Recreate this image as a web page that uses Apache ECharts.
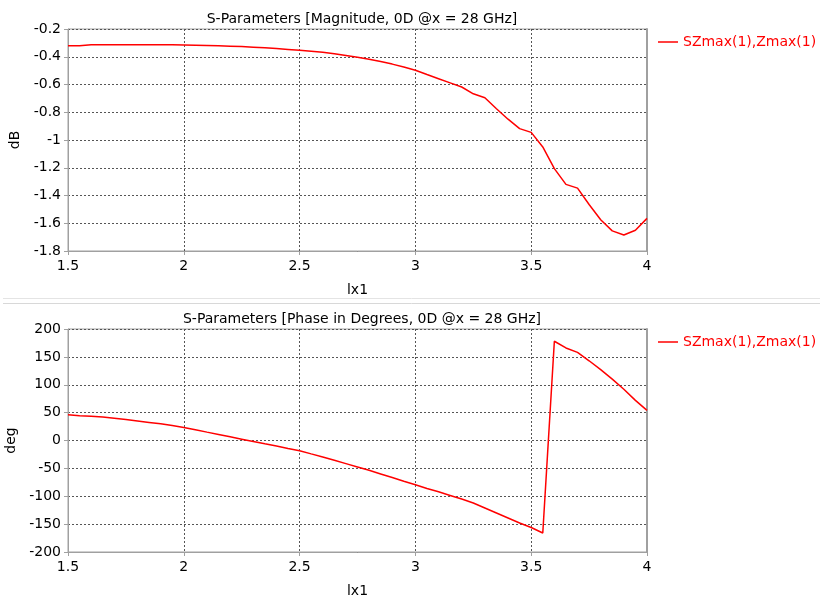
<!DOCTYPE html>
<html>
<head>
<meta charset="utf-8">
<script src="https://cdn.jsdelivr.net/npm/echarts@6/dist/echarts.min.js"></script>
<style>html,body{margin:0;padding:0;background:#fff;}#c{width:820px;height:602px;}</style>
</head>
<body>
<div id="c"></div>
<script>
const xValues = [1.5,1.55,1.6,1.65,1.7,1.75,1.8,1.85,1.9,1.95,2.0,2.05,2.1,2.15,2.2,2.25,2.3,2.35,2.4,2.45,2.5,2.55,2.6,2.65,2.7,2.75,2.8,2.85,2.9,2.95,3.0,3.05,3.1,3.15,3.2,3.25,3.3,3.35,3.4,3.45,3.5,3.55,3.6,3.65,3.7,3.75,3.8,3.85,3.9,3.95,4.0];
const magnitudeDb = [-0.321,-0.32,-0.314,-0.314,-0.314,-0.314,-0.314,-0.314,-0.314,-0.314,-0.315,-0.317,-0.319,-0.321,-0.324,-0.327,-0.331,-0.336,-0.341,-0.347,-0.353,-0.36,-0.367,-0.378,-0.391,-0.404,-0.418,-0.434,-0.453,-0.474,-0.497,-0.528,-0.558,-0.588,-0.618,-0.667,-0.695,-0.775,-0.85,-0.918,-0.945,-1.05,-1.206,-1.32,-1.347,-1.465,-1.575,-1.655,-1.685,-1.65,-1.565];
const phaseDeg = [46,44.5,43.5,42,40,37.5,35,32.5,30,27,23.5,19.3,15,10.8,6.6,2.4,-1.8,-6,-10,-14.2,-18.3,-24,-29.5,-35.5,-41.5,-47.5,-53.5,-60,-66.5,-73,-79.3,-86,-92,-98.5,-105,-112,-121,-130,-139,-148,-156,-166,178,166,158,143,127,110,92,72,54];
const seriesName = 'SZmax(1),Zmax(1)';
const topTitle = 'S-Parameters [Magnitude, 0D @x = 28 GHz]';
const bottomTitle = 'S-Parameters [Phase in Degrees, 0D @x = 28 GHz]';
const xName = 'lx1';
const topYName = 'dB';
const bottomYName = 'deg';

const FONT = 'DejaVu Sans';
const chart = echarts.init(document.getElementById('c'), null, {renderer: 'canvas'});
const pair = (ys) => xValues.map((x, i) => [x, ys[i]]);

function xAxisCfg(gi) {
  return {
    type: 'value', gridIndex: gi, min: 1.5, max: 4, interval: 0.5,
    name: xName, nameLocation: 'middle', nameGap: 39,
    nameTextStyle: {fontFamily: FONT, fontSize: 14, color: '#000', verticalAlign: 'middle'},
    axisLine: {show: true, onZero: false, lineStyle: {color: '#a0a0a0', width: 1}},
    axisTick: {show: true, length: 4, lineStyle: {color: '#a0a0a0'}},
    axisLabel: {fontFamily: FONT, fontSize: 14, color: '#000', margin: 8},
    splitLine: {show: true, lineStyle: {color: '#555', type: [2, 2], width: 1}}
  };
}
function yAxisCfg(gi, min, max, interval, name) {
  return {
    type: 'value', gridIndex: gi, min: min, max: max, interval: interval,
    name: name, nameLocation: 'middle', nameGap: 52, nameRotate: 90,
    nameTextStyle: {fontFamily: FONT, fontSize: 14, color: '#000', verticalAlign: 'middle'},
    axisLine: {show: true, onZero: false, lineStyle: {color: '#a0a0a0', width: 1}},
    axisTick: {show: true, length: 4, lineStyle: {color: '#a0a0a0'}},
    axisLabel: {fontFamily: FONT, fontSize: 14, color: '#000', margin: 7},
    splitLine: {show: true, lineStyle: {color: '#555', type: [2, 2], width: 1}}
  };
}
function rightAxisCfg(gi, min, max) {
  return {
    type: 'value', gridIndex: gi, position: 'right', min: min, max: max,
    axisLine: {show: true, onZero: false, lineStyle: {color: '#a0a0a0', width: 2}},
    axisTick: {show: false}, axisLabel: {show: false}, splitLine: {show: false}
  };
}
function legendCfg(top) {
  return {
    left: 658, top: top, orient: 'horizontal', itemWidth: 20, itemHeight: 1.5, itemGap: 5,
    padding: 0, data: [{name: seriesName, icon: 'rect'}], selectedMode: false,
    itemStyle: {color: '#ff0000'},
    textStyle: {fontFamily: FONT, fontSize: 14, color: '#ff0000'}
  };
}

const option = {
  backgroundColor: '#fff',
  animation: false,
  title: [
    {text: topTitle, left: 357, top: 7, textAlign: 'center',
     textStyle: {fontFamily: FONT, fontSize: 14, fontWeight: 'normal', color: '#000'}},
    {text: bottomTitle, left: 357, top: 307, textAlign: 'center',
     textStyle: {fontFamily: FONT, fontSize: 14, fontWeight: 'normal', color: '#000'}}
  ],
  legend: [legendCfg(35), legendCfg(335)],
  grid: [
    {left: 68, top: 29, width: 579, height: 222, show: true, borderColor: '#a0a0a0', borderWidth: 1,
     backgroundColor: '#fff', containLabel: false, outerBoundsMode: 'none'},
    {left: 68, top: 329, width: 579, height: 223, show: true, borderColor: '#a0a0a0', borderWidth: 1,
     backgroundColor: '#fff', containLabel: false, outerBoundsMode: 'none'}
  ],
  xAxis: [xAxisCfg(0), xAxisCfg(1)],
  yAxis: [
    yAxisCfg(0, -1.8, -0.2, 0.2, topYName),
    yAxisCfg(1, -200, 200, 50, bottomYName),
    rightAxisCfg(0, -1.8, -0.2),
    rightAxisCfg(1, -200, 200)
  ],
  series: [
    {name: seriesName, type: 'line', xAxisIndex: 0, yAxisIndex: 0, data: pair(magnitudeDb),
     symbol: 'none', lineStyle: {color: '#ff0000', width: 1.5}, itemStyle: {color: '#ff0000'}},
    {name: seriesName, type: 'line', xAxisIndex: 1, yAxisIndex: 1, data: pair(phaseDeg),
     symbol: 'none', lineStyle: {color: '#ff0000', width: 1.5}, itemStyle: {color: '#ff0000'}}
  ],
  graphic: [
    {type: 'line', shape: {x1: 3, y1: 298.5, x2: 820, y2: 298.5}, style: {stroke: '#e4e4e4', lineWidth: 1}, silent: true},
    {type: 'line', shape: {x1: 3, y1: 303.5, x2: 820, y2: 303.5}, style: {stroke: '#d8d8d8', lineWidth: 1}, silent: true}
  ]
};
chart.setOption(option);
</script>
</body>
</html>
